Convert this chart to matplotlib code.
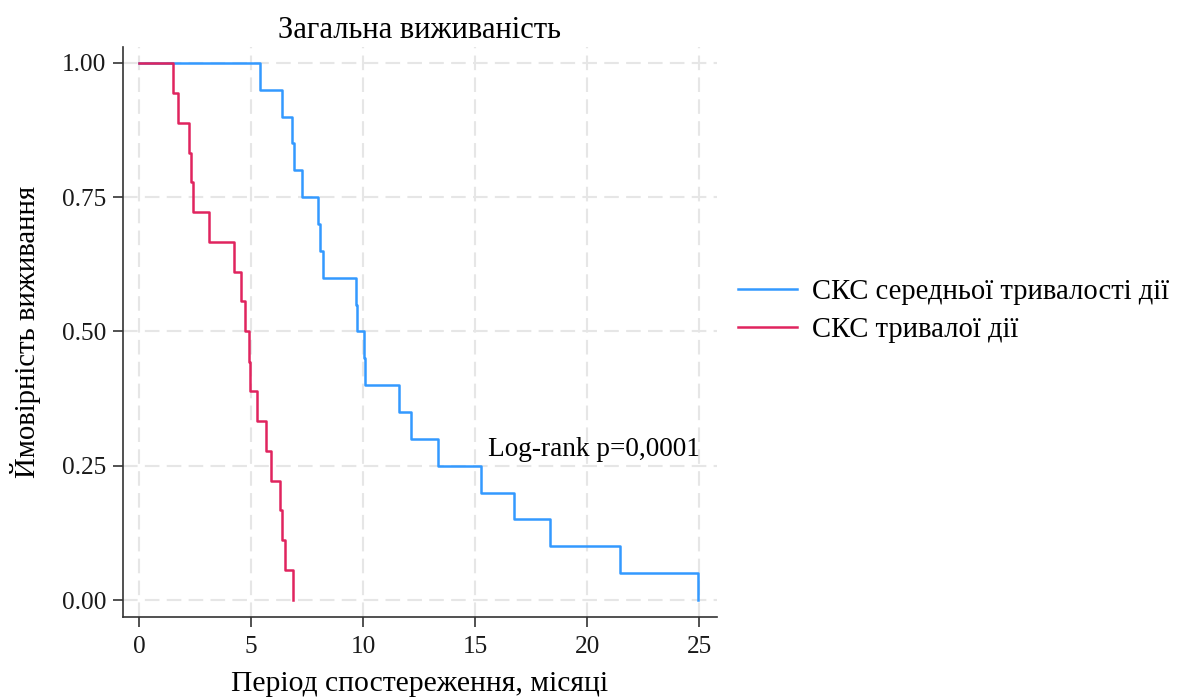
import matplotlib
matplotlib.use('Agg')
import matplotlib.pyplot as plt
from matplotlib import rcParams

rcParams['font.family'] = ['Liberation Serif', 'DejaVu Serif']

# data (event times in months, survival after each event)
blue_t = [0, 5.38, 6.39, 6.84, 6.90, 7.26, 7.96, 8.05, 8.19, 9.67, 9.72,
          10.05, 10.08, 11.61, 12.12, 13.35, 15.27, 16.75, 18.33, 21.47, 24.96]
blue_s = [1.0, 0.95, 0.90, 0.85, 0.80, 0.75, 0.70, 0.65, 0.60, 0.55, 0.50,
          0.45, 0.40, 0.35, 0.30, 0.25, 0.20, 0.15, 0.10, 0.05, 0.0]
red_t = [0, 1.50, 1.73, 2.24, 2.31, 2.39, 3.13, 4.21, 4.52, 4.73, 4.88,
         4.96, 5.27, 5.68, 5.90, 6.30, 6.38, 6.49, 6.88]
red_s = [1.0, 0.944, 0.889, 0.833, 0.778, 0.722, 0.667, 0.611, 0.556, 0.5, 0.444,
         0.389, 0.333, 0.278, 0.222, 0.167, 0.111, 0.056, 0.0]
labels = ['СКС середньої тривалості дії', 'СКС тривалої дії']
xticks = [0, 5, 10, 15, 20, 25]
yticks = [0.0, 0.25, 0.5, 0.75, 1.0]

fig = plt.figure(figsize=(11.78, 6.98), dpi=100)
ax = fig.add_axes([0.1042, 0.1165, 0.5042, 0.8165])

ax.step(blue_t, blue_s, where='post', color='#3399FF', lw=1.8, label=labels[0])
ax.step(red_t, red_s, where='post', color='#E0245E', lw=1.8, label=labels[1])

ax.set_xlim(-0.74, 25.79)
ax.set_ylim(-0.031, 1.03)
ax.set_xticks(xticks)
ax.set_yticks(yticks)
ax.set_yticklabels(['%.2f' % v for v in yticks])
ax.grid(True, color='#E6E6E6', lw=1.5, linestyle=(0, (7, 3.5)))
ax.set_axisbelow(True)
for s in ['top', 'right']:
    ax.spines[s].set_visible(False)
for s in ['left', 'bottom']:
    ax.spines[s].set_color('#333333')
    ax.spines[s].set_linewidth(1.2)
ax.tick_params(length=7, width=1.2, color='#333333', labelsize=18.3, labelcolor='#1a1a1a')
ax.tick_params(axis='x', pad=7)
ax.tick_params(axis='y', pad=5)

ax.set_title('Загальна виживаність', fontsize=22, pad=6)
ax.set_xlabel('Період спостереження, місяці', fontsize=21.3, labelpad=9)
ax.set_ylabel('Ймовірність виживання', fontsize=20.7, labelpad=15)
ax.text(20.3, 0.28, 'Log-rank p=0,0001', fontsize=19.6, ha='center', va='center')

ax.legend(loc='center left', bbox_to_anchor=(738 / 1178, 1 - 311 / 698),
          bbox_transform=fig.transFigure, frameon=False, borderpad=0,
          borderaxespad=0, fontsize=20.6, handlelength=2.06,
          handletextpad=0.52, labelspacing=0.45)

fig.savefig('out.png', dpi=100)
